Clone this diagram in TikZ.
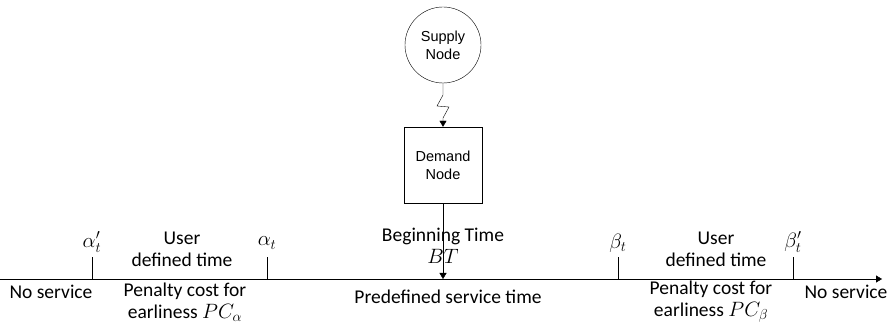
\documentclass[tikz,border=0pt]{standalone}
\usepackage{amsmath}
\usepackage{fontspec}
\setmainfont{Carlito}
\newfontfamily\nodefont{Liberation Sans}
\usetikzlibrary{arrows.meta}

\begin{document}
\begin{tikzpicture}[x=1pt,y=-1pt]
    \tikzstyle{every node}+=[inner sep=0pt]
    \tikzstyle{lbl}=[font=\fontsize{19.5}{22}\selectfont, align=center]
    \tikzstyle{mlbl}=[font=\fontsize{21}{22}\selectfont]
    \tikzstyle{box}=[draw, black, font=\nodefont\fontsize{14.5}{18}\selectfont, align=center]
    \tikzstyle{tip}=[-{Triangle[length=6pt,width=7pt]}]
    \useasboundingbox (0,0) rectangle (893,328);
    % nodes
    \node [box, circle, minimum size=76] (supply) at (443,45) {Supply\\Node};
    \node [box, minimum width=78, minimum height=76] (demand) at (443,165) {Demand\\Node};
    % time axis
    \coordinate (left) at (0,279);
    \coordinate (right) at (882,279);
    \draw [black, tip] (left) -- (right);
    % wireless link
    \coordinate (z1) at (443,95);
    \coordinate (z2) at (437,106);
    \coordinate (z3) at (449,107);
    \coordinate (z4) at (443,118);
    \draw [black, tip] (supply.south) -- (z1) -- (z2) -- (z3) -- (z4) -- (demand.north);
    \draw [black, tip] (demand.south) -- (demand.south |- left);
    % ticks
    \coordinate (a1) at (92,279);
    \coordinate (a2) at (267,279);
    \coordinate (b2) at (618,279);
    \coordinate (b1) at (793,279);
    \draw [black] (a1) -- ++(0,-22);
    \draw [black] (a2) -- ++(0,-22);
    \draw [black] (b2) -- ++(0,-22);
    \draw [black] (b1) -- ++(0,-22);
    \node [mlbl] (la1) at (92,242) {$\alpha'_t$};
    \node [mlbl] (la2) at (267,243) {$\alpha_t$};
    \node [mlbl] (lb2) at (618,243) {$\beta_t$};
    \node [mlbl] (lb1) at (793,242) {$\beta'_t$};
    % labels above
    \node [lbl] (udl) at (182,249) {User\\defined time};
    \node [lbl] (bt) at (443,246) {Beginning Time\\$BT$};
    \node [lbl] (udr) at (716,249) {User\\defined time};
    % labels below
    \node [lbl] (nsl) at (51,292) {No service};
    \node [lbl] (pcl) at (185,302) {Penalty cost for\\earliness $PC_\alpha$};
    \node [lbl] (pst) at (448,297) {Predefined service time};
    \node [lbl] (pcr) at (711,302) {Penalty cost for\\earliness $PC_\beta$};
    \node [lbl] (nsr) at (846,292) {No service};
\end{tikzpicture}
\end{document}
